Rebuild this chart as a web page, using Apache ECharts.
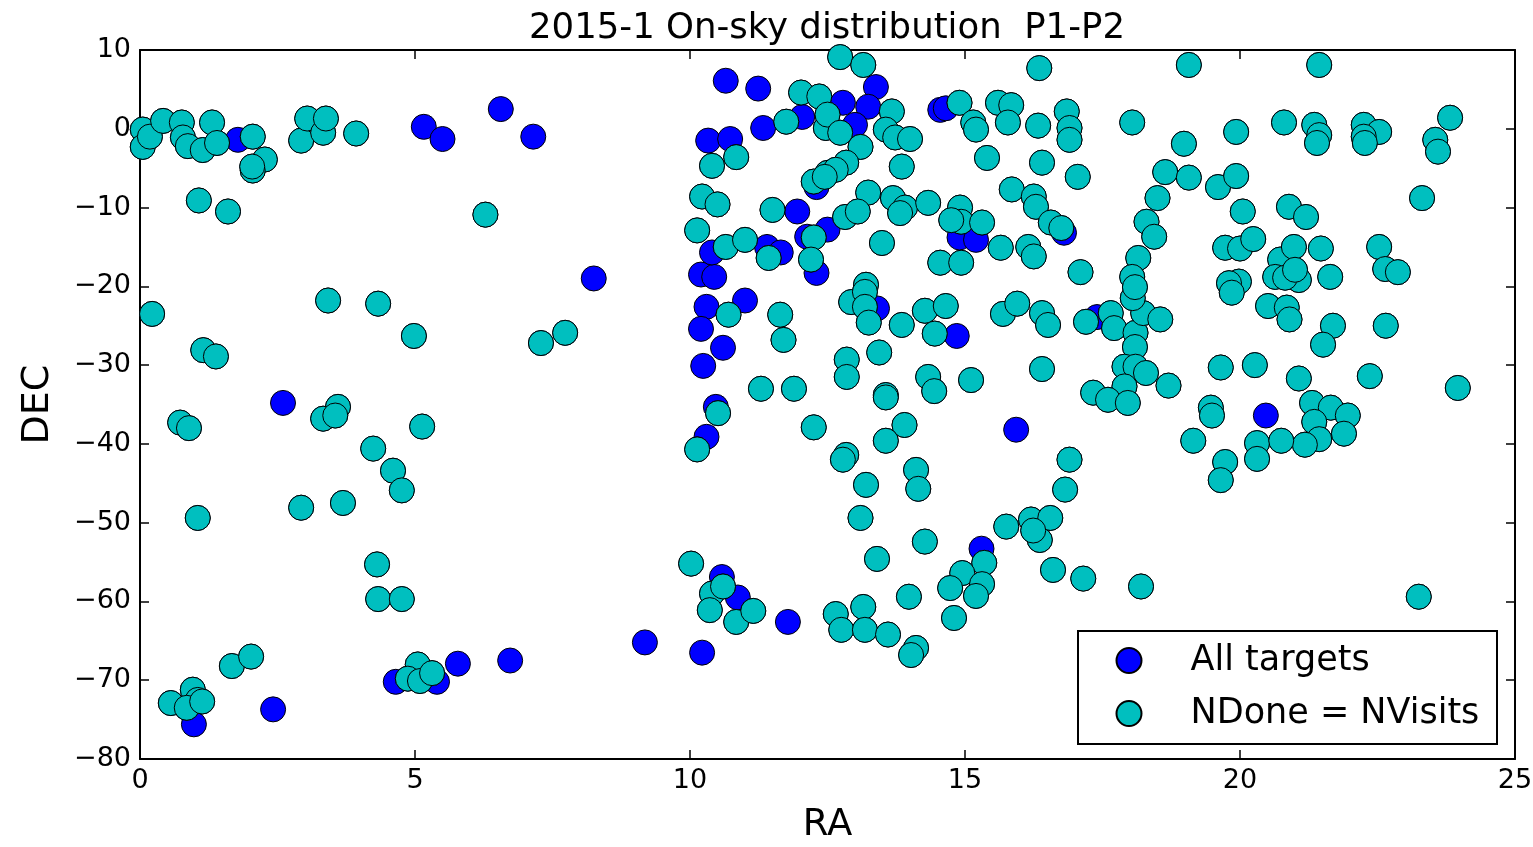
<!DOCTYPE html>
<html>
<head>
<meta charset="utf-8">
<script src="https://cdn.jsdelivr.net/npm/echarts@6/dist/echarts.min.js"></script>
<style>
html,body{margin:0;padding:0;background:#fff;}
#chart{width:1533px;height:847px;}
</style>
</head>
<body>
<div id="chart"></div>
<script>
// ---- data (RA, DEC) ----
const titleText = '2015-1 On-sky distribution  P1-P2';
const seriesNames = ['All targets', 'NDone = NVisits'];
const xTicks = [0, 5, 10, 15, 20, 25];
const yTicks = [-80, -70, -60, -50, -40, -30, -20, -10, 0, 10];

// targets that are not completed (only visible as blue)
const notDone = [
  [1.78,-1.4],[5.16,0.25],[5.5,-1.3],[6.56,2.5],[7.15,-1.0],[10.65,6.1],[11.24,5.1],[11.33,0.1],
  [10.33,-1.5],[10.73,-1.3],[11.95,-10.5],[12.04,1.5],[10.2,-18.5],[10.44,-18.8],[10.4,-15.7],
  [11.4,-15.0],[11.65,-15.7],[12.13,-13.7],[12.3,-18.3],[8.25,-19.0],[13.38,5.3],[12.78,3.3],
  [13.24,2.8],[13.0,0.5],[14.55,2.4],[14.65,2.6],[12.5,-12.8],[14.9,-13.8],[15.2,-14.1],[16.8,-13.2],
  [12.3,-7.4],[2.6,-34.8],[10.3,-22.6],[11.0,-21.8],[10.2,-25.4],[10.6,-27.8],[10.24,-30.1],
  [10.47,-35.3],[10.3,-39.1],[13.4,-22.8],[14.85,-26.3],[17.4,-23.9],[15.93,-38.2],[20.47,-36.4],
  [0.98,-75.6],[2.42,-73.7],[4.65,-70.2],[5.4,-70.2],[5.78,-67.9],[6.73,-67.5],[9.18,-65.2],
  [10.22,-66.5],[10.58,-56.9],[10.87,-59.5],[11.78,-62.6],[15.3,-53.3]
];

// targets with NDone = NVisits (cyan)
const done = [
  [0.05,-0.1],[0.05,-2.3],[0.18,-1.0],[0.42,1.0],[0.76,0.8],[0.78,-1.1],[0.87,-2.2],[1.31,0.8],
  [1.14,-2.7],[1.40,-1.8],[2.05,-1.0],[2.27,-3.9],[2.05,-5.3],[2.04,-4.8],[2.93,-1.5],[3.04,1.3],
  [3.33,-0.5],[3.38,1.3],[3.93,-0.6],[1.07,-9.1],[1.6,-10.5],[6.28,-10.9],
  [12.02,4.6],[12.35,4.1],[11.75,0.9],[12.47,0.1],[10.4,-4.7],[10.84,-3.6],[12.25,-6.7],[12.5,-5.6],
  [10.22,-8.6],[10.5,-9.6],[11.5,-10.3],[10.13,-12.9],[10.65,-15.0],[11.0,-14.1],[11.43,-16.4],
  [12.25,-13.8],[12.2,-16.6],
  [12.73,9.1],[13.15,8.1],[16.35,7.7],[13.67,2.2],[12.5,1.8],[12.73,-0.5],[13.56,-0.1],[13.73,-1.1],
  [14.0,-1.3],[13.1,-2.3],[12.84,-4.3],[12.65,-5.2],[12.45,-6.1],[13.85,-4.8],[14.9,3.3],[15.15,0.8],
  [15.2,-0.1],[15.6,3.3],[15.84,3.0],[15.78,0.8],[16.33,0.4],[16.85,2.2],[16.9,0.1],[16.9,-1.4],
  [15.4,-3.7],[16.4,-4.3],[17.05,-6.1],[18.04,0.8],[15.85,-7.7],[16.25,-8.6],[16.29,-9.9],
  [13.24,-8.1],[12.82,-11.2],[13.05,-10.5],[13.69,-8.8],[13.91,-10.0],[13.82,-10.7],[14.33,-9.4],
  [14.91,-10.0],[14.93,-11.8],[14.75,-11.6],[15.31,-11.9],[13.49,-14.5],[15.65,-15.1],[16.15,-15.0],
  [16.25,-16.2],[16.56,-11.9],[16.75,-12.6],[17.1,-18.2],[14.55,-17.0],[14.93,-17.0],[13.2,-19.8],
  [18.64,-5.5],[18.5,-8.8],[18.3,-11.8],[18.44,-13.7],[18.15,-16.4],[18.04,-18.8],
  [19.07,8.1],[21.44,8.1],[23.82,1.4],[19.93,-0.4],[20.8,0.8],[21.35,0.5],[21.44,-0.8],[21.4,-1.8],
  [22.25,0.5],[22.53,-0.4],[22.25,-1.0],[22.27,-1.8],[23.55,-1.4],[23.6,-2.9],[18.98,-1.9],
  [19.07,-6.2],[19.6,-7.4],[19.93,-6.0],[23.31,-8.8],[20.05,-10.5],[20.89,-9.9],[21.2,-11.2],
  [19.73,-15.1],[20.0,-15.2],[20.24,-14.0],[20.73,-16.6],[20.98,-15.0],[21.47,-15.2],[22.53,-15.0],
  [22.64,-17.8],[22.87,-18.2],[19.98,-19.4],[19.8,-19.6],[20.64,-18.8],[21.07,-19.2],[20.82,-18.9],
  [21.0,-17.9],[21.64,-18.8],
  [19.85,-20.8],[20.51,-22.5],[20.85,-22.7],[20.9,-24.2],[21.69,-25.0],[21.51,-27.4],[22.65,-25.0],
  [19.65,-30.3],[20.27,-30.0],[21.07,-31.7],[22.36,-31.4],[23.96,-32.9],[18.7,-32.6],
  [19.47,-35.4],[19.49,-36.4],[21.31,-34.8],[21.65,-35.4],[21.96,-36.4],[21.35,-37.2],[21.89,-38.7],
  [21.44,-39.4],[21.18,-40.1],[19.15,-39.6],[20.31,-39.9],[20.31,-41.9],[20.75,-39.6],[19.73,-42.3],
  [19.65,-44.6],
  [12.93,-22.0],[13.18,-20.7],[13.18,-22.6],[13.25,-24.6],[13.85,-24.9],[14.27,-23.1],[14.65,-22.5],
  [14.45,-26.0],[13.44,-28.4],[12.85,-29.3],[12.85,-31.5],[13.56,-33.8],[13.56,-34.1],[14.33,-31.5],
  [14.44,-33.3],[15.11,-31.9],[15.69,-23.5],[15.95,-22.2],[16.4,-23.4],[16.51,-24.9],[16.4,-30.5],
  [17.2,-24.5],[17.65,-23.4],[17.71,-25.3],[18.1,-25.9],[18.24,-23.4],[18.55,-24.2],[18.05,-21.5],
  [18.09,-20.1],[18.09,-27.7],[17.9,-30.2],[18.1,-30.2],[18.29,-31.0],[17.9,-32.7],[17.33,-33.5],
  [17.6,-34.4],[17.96,-34.8],[13.9,-37.6],[13.56,-39.6],[12.84,-41.4],[12.78,-42.0],
  [12.25,-37.9],[14.11,-43.3],[14.15,-45.7],[13.2,-45.2],[16.9,-42.0],[16.82,-45.8],[13.1,-49.4],
  [15.75,-50.5],[16.2,-49.6],[16.55,-49.4],
  [7.29,-27.2],[7.73,-25.9],[10.7,-23.6],[11.64,-23.6],[11.7,-26.8],[11.29,-33.0],[11.89,-33.0],
  [10.51,-36.1],[10.13,-40.7],
  [0.22,-23.5],[3.42,-21.8],[4.33,-22.2],[4.98,-26.3],[1.15,-28.1],[1.38,-28.9],[0.73,-37.3],
  [0.89,-38.0],[3.6,-35.3],[3.33,-36.8],[3.55,-36.4],[5.13,-37.8],[4.24,-40.6],[4.6,-43.4],
  [4.76,-45.9],[2.93,-48.1],[3.69,-47.5],[1.05,-49.4],
  [4.31,-55.3],[4.33,-59.7],[4.76,-59.7],[1.67,-68.2],[2.02,-67.0],[0.56,-72.9],[0.96,-71.2],
  [1.05,-72.5],[0.85,-73.5],[1.13,-72.7],[5.05,-68.0],[4.87,-69.8],[5.09,-70.1],[5.31,-69.1],
  [10.02,-55.2],[10.4,-59.0],[10.6,-58.1],[10.36,-61.1],[10.84,-62.6],[11.15,-61.2],
  [14.27,-52.4],[13.4,-54.6],[16.36,-52.2],[16.24,-51.0],[15.35,-55.1],[14.95,-56.4],[14.73,-58.3],
  [15.31,-57.8],[15.2,-59.3],[16.6,-56.0],[17.15,-57.1],[18.2,-58.1],[13.98,-59.4],[14.8,-62.1],
  [12.65,-61.6],[13.15,-60.7],[12.75,-63.6],[13.18,-63.6],[13.6,-64.2],[14.11,-65.9],[14.02,-66.8],
  [23.25,-59.4]
];

// All targets = not-done targets plus done targets
const allTargets = notDone.concat(done);

const FONT = 'DejaVu Sans';
const chart = echarts.init(document.getElementById('chart'), null, {renderer: 'canvas'});
const minus = v => String(v).replace('-', '\u2212');

const frameLine = {show: true, onZero: false, lineStyle: {color: '#000', width: 2}};
const tickIn = {show: true, inside: true, length: 9, lineStyle: {color: '#000', width: 1.5}};

const option = {
  animation: false,
  backgroundColor: '#fff',
  grid: {left: 140, right: 18, top: 50, bottom: 88, containLabel: false, outerBoundsMode: 'none'},
  xAxis: [{
    type: 'value', min: xTicks[0], max: xTicks[xTicks.length - 1], interval: 5,
    position: 'bottom',
    name: 'RA', nameLocation: 'middle', nameGap: 48,
    nameTextStyle: {fontFamily: FONT, fontSize: 37, color: '#000'},
    axisLine: frameLine, axisTick: tickIn, splitLine: {show: false},
    axisLabel: {fontFamily: FONT, fontSize: 27, color: '#000', margin: 8, formatter: minus}
  }, {
    type: 'value', min: xTicks[0], max: xTicks[xTicks.length - 1], interval: 5,
    position: 'top',
    axisLine: frameLine, axisTick: tickIn, splitLine: {show: false}, axisLabel: {show: false}
  }],
  yAxis: [{
    type: 'value', min: yTicks[0], max: yTicks[yTicks.length - 1], interval: 10,
    position: 'left',
    name: 'DEC', nameLocation: 'middle', nameGap: 83,
    nameTextStyle: {fontFamily: FONT, fontSize: 38, color: '#000'},
    axisLine: frameLine, axisTick: tickIn, splitLine: {show: false},
    axisLabel: {fontFamily: FONT, fontSize: 27, color: '#000', margin: 9, formatter: minus}
  }, {
    type: 'value', min: yTicks[0], max: yTicks[yTicks.length - 1], interval: 10,
    position: 'right',
    axisLine: frameLine, axisTick: tickIn, splitLine: {show: false}, axisLabel: {show: false}
  }],
  legend: {
    orient: 'vertical', left: 1115.5, top: 643,
    itemWidth: 25, itemHeight: 25, itemGap: 18, icon: 'circle',
    padding: 0,
    formatter: name => '{g|}' + name,
    textStyle: {fontFamily: FONT, fontSize: 35, color: '#000', lineHeight: 32,
      rich: {g: {width: 44}}},
    data: seriesNames,
    z: 10
  },
  graphic: [
    {type: 'text', x: 827, y: 29, z: 10,
     style: {text: titleText, font: '35.5px "DejaVu Sans"', fill: '#000', textAlign: 'center', textVerticalAlign: 'middle'}},
    {type: 'rect', z: 5, shape: {x: 1078, y: 631, width: 419, height: 113},
     style: {fill: '#fff', stroke: '#000', lineWidth: 2}}
  ],
  series: [{
    name: seriesNames[0], type: 'scatter', data: allTargets,
    symbol: 'circle', symbolSize: 25,
    itemStyle: {color: '#0000ff', borderColor: '#000', borderWidth: 1, opacity: 1},
    emphasis: {disabled: true}, z: 2
  }, {
    name: seriesNames[1], type: 'scatter', data: done,
    symbol: 'circle', symbolSize: 25,
    itemStyle: {color: '#00bfbf', borderColor: '#000', borderWidth: 1, opacity: 1},
    emphasis: {disabled: true}, z: 3
  }]
};
chart.setOption(option);
</script>
</body>
</html>
